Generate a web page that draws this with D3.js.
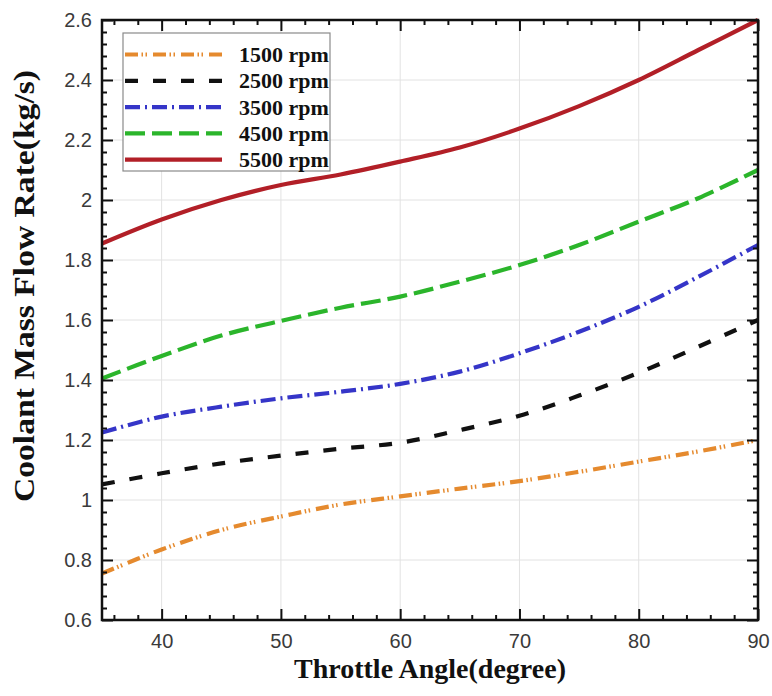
<!DOCTYPE html>
<html>
<head>
<meta charset="utf-8">
<script src="https://cdn.jsdelivr.net/npm/d3@7"></script>
<style>
  html, body { margin: 0; padding: 0; background: #fff; }
  svg { display: block; }
</style>
</head>
<body>
<svg id="chart" width="772" height="696"></svg>
<script>
// Throttle angle (degree) sample points
const angles = [35, 40, 45, 50, 55, 60, 65, 70, 75, 80, 85, 90];

// Coolant mass flow rate (kg/s) per engine speed
const rpm1500 = [0.755, 0.835, 0.900, 0.945, 0.985, 1.012, 1.038, 1.063, 1.094, 1.128, 1.162, 1.200];
const rpm2500 = [1.052, 1.089, 1.122, 1.148, 1.171, 1.191, 1.233, 1.281, 1.348, 1.424, 1.511, 1.600];
const rpm3500 = [1.225, 1.278, 1.311, 1.339, 1.361, 1.387, 1.428, 1.489, 1.561, 1.644, 1.744, 1.850];
const rpm4500 = [1.405, 1.480, 1.548, 1.597, 1.641, 1.678, 1.728, 1.783, 1.850, 1.928, 2.006, 2.100];
const rpm5500 = [1.855, 1.935, 2.000, 2.050, 2.085, 2.128, 2.175, 2.238, 2.313, 2.400, 2.500, 2.600];

const seriesNames = ["1500 rpm", "2500 rpm", "3500 rpm", "4500 rpm", "5500 rpm"];
const seriesColors = ["#e58a2e", "#111111", "#3535c8", "#2bb52b", "#b21f27"];
const seriesDashes = ["13,3.5,1.5,2.5,1.5,6", "13,15", "15,5,2,5", "20,7", null];

const xTicks = [40, 50, 60, 70, 80, 90];
const yTicks = [0.6, 0.8, 1, 1.2, 1.4, 1.6, 1.8, 2, 2.2, 2.4, 2.6];

const xTitle = "Throttle Angle(degree)";
const yTitle = "Coolant Mass Flow Rate(kg/s)";

const series = [rpm1500, rpm2500, rpm3500, rpm4500, rpm5500].map((vals, i) => ({
  name: seriesNames[i],
  color: seriesColors[i],
  dash: seriesDashes[i],
  points: vals.map((v, j) => ({ x: angles[j], y: v }))
}));

const svg = d3.select("#chart");
const margin = { left: 102, top: 20, right: 14, bottom: 76 };
const W = 772, H = 696;
const innerW = W - margin.left - margin.right;
const innerH = H - margin.top - margin.bottom;

const x = d3.scaleLinear().domain([35, 90]).range([0, innerW]);
const y = d3.scaleLinear().domain([0.6, 2.6]).range([innerH, 0]);

const g = svg.append("g").attr("transform", `translate(${margin.left},${margin.top})`);

// light grid at major ticks
const grid = g.append("g").attr("class", "grid");
grid.selectAll("line.gx").data(xTicks).join("line")
  .attr("x1", d => x(d)).attr("x2", d => x(d))
  .attr("y1", 0).attr("y2", innerH)
  .attr("stroke", "#e2e2e2").attr("stroke-width", 1);
grid.selectAll("line.gy").data(yTicks).join("line")
  .attr("x1", 0).attr("x2", innerW)
  .attr("y1", d => y(d)).attr("y2", d => y(d))
  .attr("stroke", "#e2e2e2").attr("stroke-width", 1);

// data curves
const line = d3.line()
  .x(d => x(d.x)).y(d => y(d.y))
  .curve(d3.curveCatmullRom.alpha(0.5));

g.append("g").selectAll("path").data(series).join("path")
  .attr("d", d => line(d.points))
  .attr("fill", "none")
  .attr("stroke", d => d.color)
  .attr("stroke-width", 4.2)
  .attr("stroke-dasharray", d => d.dash)
  .attr("stroke-linecap", "butt");

// axes: major and minor ticks pointing inward on all four sides
const xMinor = d3.range(36, 90, 2).filter(v => v % 10 !== 0);
const yMinor = d3.range(0, 50).map(i => +(0.6 + i * 0.04).toFixed(2)).filter(v => v < 2.6 && Math.round(v * 100) % 20 !== 0);

const tickFont = "'Liberation Sans', Arial, sans-serif";

function styleAxis(sel) {
  sel.select(".domain").remove();
  sel.selectAll(".tick line").attr("stroke", "#111").attr("stroke-width", 2);
  sel.selectAll(".tick text")
    .attr("font-family", tickFont).attr("font-size", 20).attr("fill", "#3a3a3a");
}

g.append("g").attr("transform", `translate(0,${innerH})`)
  .call(d3.axisBottom(x).tickValues(xTicks).tickSize(-11).tickPadding(14).tickFormat(d3.format("d")))
  .call(styleAxis);
g.append("g").attr("transform", `translate(0,${innerH})`)
  .call(d3.axisBottom(x).tickValues(xMinor).tickSize(-5).tickFormat(""))
  .call(styleAxis);
g.append("g")
  .call(d3.axisTop(x).tickValues(xTicks).tickSize(-11).tickFormat(""))
  .call(styleAxis);
g.append("g")
  .call(d3.axisTop(x).tickValues(xMinor).tickSize(-5).tickFormat(""))
  .call(styleAxis);

g.append("g")
  .call(d3.axisLeft(y).tickValues(yTicks).tickSize(-11).tickPadding(10).tickFormat(d3.format("~g")))
  .call(styleAxis);
g.append("g")
  .call(d3.axisLeft(y).tickValues(yMinor).tickSize(-5).tickFormat(""))
  .call(styleAxis);
g.append("g").attr("transform", `translate(${innerW},0)`)
  .call(d3.axisRight(y).tickValues(yTicks).tickSize(-11).tickFormat(""))
  .call(styleAxis);
g.append("g").attr("transform", `translate(${innerW},0)`)
  .call(d3.axisRight(y).tickValues(yMinor).tickSize(-5).tickFormat(""))
  .call(styleAxis);

// plot frame
g.append("rect")
  .attr("x", 0).attr("y", 0).attr("width", innerW).attr("height", innerH)
  .attr("fill", "none").attr("stroke", "#111").attr("stroke-width", 2.5);

// axis titles
const titleFont = "'Liberation Serif', 'Times New Roman', serif";
svg.append("text")
  .attr("x", margin.left + innerW / 2).attr("y", 678)
  .attr("text-anchor", "middle")
  .attr("font-family", titleFont).attr("font-weight", "bold").attr("font-size", 28)
  .attr("fill", "#111")
  .text(xTitle);
svg.append("text")
  .attr("transform", "translate(34,286) rotate(-90)")
  .attr("text-anchor", "middle")
  .attr("font-family", titleFont).attr("font-weight", "bold").attr("font-size", 30)
  .attr("textLength", 432).attr("lengthAdjust", "spacingAndGlyphs")
  .attr("fill", "#111")
  .text(yTitle);

// legend
const legend = g.append("g").attr("transform", "translate(21,13)");
legend.append("rect")
  .attr("x", 0).attr("y", 0).attr("width", 207).attr("height", 138)
  .attr("fill", "#fff").attr("stroke", "#8a8a8a").attr("stroke-width", 1.2);
const rows = legend.selectAll("g.row").data(series).join("g")
  .attr("class", "row")
  .attr("transform", (d, i) => `translate(0,${21.5 + i * 26.3})`);
rows.append("line")
  .attr("x1", 2).attr("x2", 99).attr("y1", 0).attr("y2", 0)
  .attr("stroke", d => d.color).attr("stroke-width", 4.2)
  .attr("stroke-dasharray", d => d.dash);
rows.append("text")
  .attr("x", 116).attr("y", 7.5)
  .attr("font-family", titleFont).attr("font-weight", "bold").attr("font-size", 22)
  .attr("fill", "#111")
  .text(d => d.name);
</script>
</body>
</html>
